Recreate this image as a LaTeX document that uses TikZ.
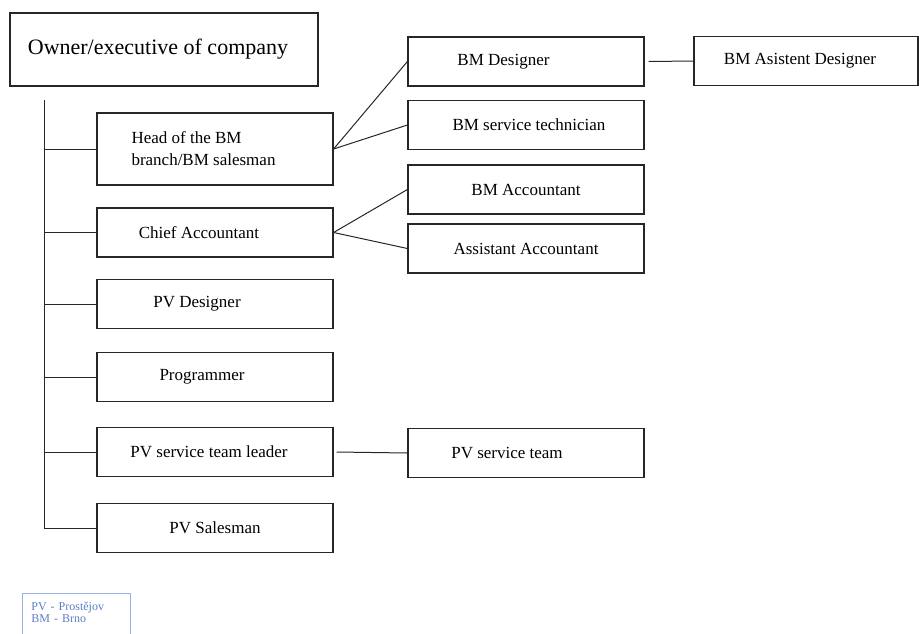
\documentclass[tikz,border=0pt]{standalone}
\usepackage{fontspec}
\setmainfont{Liberation Serif}
\definecolor{keytext}{RGB}{95,125,195}
\definecolor{keyline}{RGB}{150,180,230}

\tikzset{
	post/.style={draw=black!85, line width=1.2pt, minimum width=236pt, minimum height=49pt, inner sep=0pt, font=\fontsize{17}{22}\selectfont},
	link/.style={draw=black!85, line width=1pt},
	pull/.style={execute at end node={\hspace*{#1}}},
	legend/.style={draw=keyline, line width=0.8pt, text=keytext, anchor=north west, text width=90pt, align=left, inner xsep=9pt, inner ysep=9pt, text depth=26pt, font=\fontsize{12}{12}\selectfont}
}

\begin{document}
\begin{tikzpicture}[x=1pt, y=-1pt]
	    \useasboundingbox (0,0) rectangle (919,633);
	    
	    \node[post, pull=12pt, minimum width=308pt, minimum height=73pt, font=\fontsize{22}{26}\selectfont] (owner) at (164,49.5) {Owner/executive of company};
	    \node[post, pull=23pt, minimum height=72pt, align=left] (head) at (215,149) {Head of the BM\\branch/BM salesman};
	    
	    \foreach \n/\t/\y/\s in {chief/Chief Accountant/232.5/32, pvdes/PV Designer/304/36, prog/Programmer/377/26, leader/PV service team leader/452/12, pvsales/PV Salesman/528/0}
		\node[post, pull=\s pt] (\n) at (215,\y) {\t};
	    
	    \foreach \n/\t/\y/\s in {bmdes/BM Designer/61.5/45, bmserv/BM service technician/125/-6, bmacc/BM Accountant/189.5/0, asacc/Assistant Accountant/248.5/0, pvteam/PV service team/453/38}
		\node[post, pull=\s pt] (\n) at (526,\y) {\t};
	    
	    \node[post, pull=12pt, minimum width=224pt] (asdes) at (806,61) {BM Asistent Designer};
	    
	    \node[legend] (key) at (22,593) {PV - Prostějov\\BM - Brno};
	    
	    \coordinate (top) at (44,100);
	    \coordinate (bottom) at (44,529);
	    \draw[link] (top) -- (bottom);
	    \foreach \n in {head,chief,pvdes,prog,leader,pvsales}
		\draw[link] (\n.west -| top) -- (\n.west);
	    
	    \draw[link] (head.east) -- (bmdes.west);
	    \draw[link] (head.east) -- (bmserv.west);
	    \draw[link] (chief.east) -- (bmacc.west);
	    \draw[link] (chief.east) -- (asacc.west);
	    \draw[link] ([xshift=4pt]bmdes.east) -- (asdes.west);
	    \draw[link] ([xshift=3pt]leader.east) -- (pvteam.west);
	\end{tikzpicture}
\end{document}
